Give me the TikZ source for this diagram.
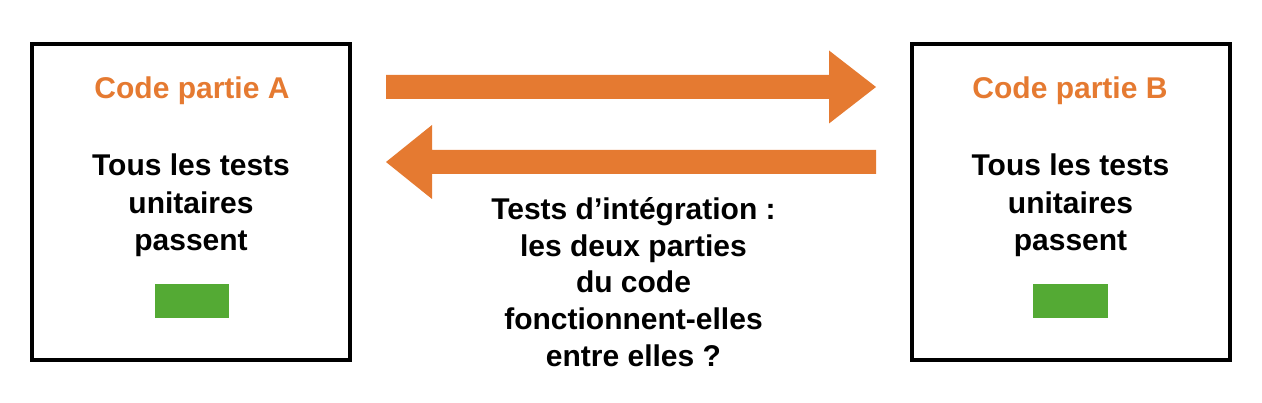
\documentclass[tikz,border=0pt]{standalone}
\usepackage{fontspec}
\setmainfont{Liberation Sans}
\definecolor{arroworange}{RGB}{229,122,49}
\definecolor{okgreen}{RGB}{84,170,52}
\begin{document}
\begin{tikzpicture}[x=1pt,y=1pt,
  partbox/.style={draw=black,line width=4pt,minimum width=318pt,minimum height=316pt,inner sep=0pt},
  titletext/.style={text=arroworange,font=\fontsize{30}{37.5}\selectfont\bfseries,inner sep=0pt,anchor=base},
  bodytext/.style={text=black,font=\fontsize{30}{37.5}\selectfont\bfseries,align=center,inner sep=0pt,anchor=north},
  okbar/.style={fill=okgreen,draw=none,minimum height=34pt,inner sep=0pt},
  arrowfill/.style={fill=arroworange,draw=none}]
\useasboundingbox (0,0) rectangle (1262,402);
% boxes
\node[partbox] (boxA) at (191,200) {};
\node[partbox] (boxB) at (1071,200) {};
% titles
\node[titletext] (titleA) at (192,303.7) {Code partie A};
\node[titletext] (titleB) at (1070,303.7) {Code partie B};
% bodies
\node[bodytext] (bodyA) at (191,248) {Tous les tests\\unitaires\\passent};
\node[bodytext] (bodyB) at (1070.5,248) {Tous les tests\\unitaires\\passent};
% green bars
\node[okbar,minimum width=74pt] (okA) at (192,101) {};
\node[okbar,minimum width=75pt] (okB) at (1070.5,101) {};
% arrows
\coordinate (rs) at (386,315);
\coordinate (re) at (876,315);
\fill[arrowfill] ([yshift=12]rs) -- ([xshift=-47,yshift=12]re) -- ([xshift=-47,yshift=36.5]re) -- (re)
  -- ([xshift=-47,yshift=-36.5]re) -- ([xshift=-47,yshift=-12]re) -- ([yshift=-12]rs) -- cycle;
\coordinate (ls) at (876,240);
\coordinate (le) at (386,240);
\fill[arrowfill] ([yshift=12]ls) -- ([xshift=46,yshift=12]le) -- ([xshift=46,yshift=37]le) -- (le)
  -- ([xshift=46,yshift=-37]le) -- ([xshift=46,yshift=-12]le) -- ([yshift=-12]ls) -- cycle;
% middle text
\node[bodytext,font=\fontsize{30}{36.8}\selectfont\bfseries] (integ) at (633.5,205)
  {Tests d’intégration :\\les deux parties\\du code\\fonctionnent-elles\\entre elles ?};
\end{tikzpicture}
\end{document}
